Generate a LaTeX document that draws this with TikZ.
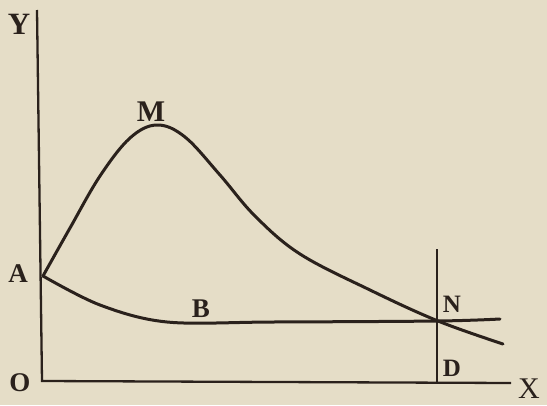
\documentclass[tikz,border=0pt]{standalone}
\usepackage{fontspec}
\setmainfont{Liberation Serif}
\begin{document}
\begin{tikzpicture}[x=1pt,y=-1pt,
  ink/.style={draw=inkc, line width=3pt, line cap=round, line join=round},
  axis/.style={draw=inkc, line width=2.3pt},
  lbl/.style={text=inkc, font=\fontsize{27}{27}\selectfont\bfseries, inner sep=0pt}]
\definecolor{bgc}{RGB}{229,221,199}
\definecolor{inkc}{RGB}{42,33,28}
\fill[bgc] (0,0) rectangle (547,405);
\useasboundingbox (0,0) rectangle (547,405);
% points
\coordinate (O) at (42,381);
\coordinate (Ytop) at (37,10);
\coordinate (Xend) at (511,383);
\coordinate (A) at (43,276);
\coordinate (M) at (157,125);
\coordinate (N) at (438,321);
\coordinate (Dtop) at (437,249);
\coordinate (D) at (437,383);
\coordinate (Bend) at (500,319);
\coordinate (Cend) at (503,344);
% axes
\draw[axis] (Ytop) -- (O) -- (Xend);
\draw[draw=inkc, line width=1.7pt] (Dtop) -- (D);
% upper curve A-M-N
\draw[ink] plot[smooth, tension=0.6] coordinates {(A) (70,228) (100,176) (130,138) (M) (185,137) (220,175) (255,216) (300,254) (370,290) (N) (Cend)};
% lower curve A-B-N
\draw[ink] plot[smooth, tension=0.55] coordinates {(A) (100,305) (167,322) (273,322) (N) (Bend)};
% labels
\node[lbl, font=\fontsize{31}{31}\selectfont\bfseries] (lY) at (19,24) {Y};
\node[lbl, font=\fontsize{30}{30}\selectfont\bfseries] (lM) at (151,112) {M};
\node[lbl] (lA) at (18,274) {A};
\node[lbl] (lB) at (201,309) {B};
\node[lbl] (lO) at (20,383) {O};
\node[lbl, font=\fontsize{25}{25}\selectfont\bfseries] (lN) at (452,304) {N};
\node[lbl, font=\fontsize{25}{25}\selectfont\bfseries] (lD) at (452,368) {D};
\node[lbl, font=\fontsize{30}{30}\selectfont] (lX) at (529,389) {X};
\end{tikzpicture}
\end{document}
